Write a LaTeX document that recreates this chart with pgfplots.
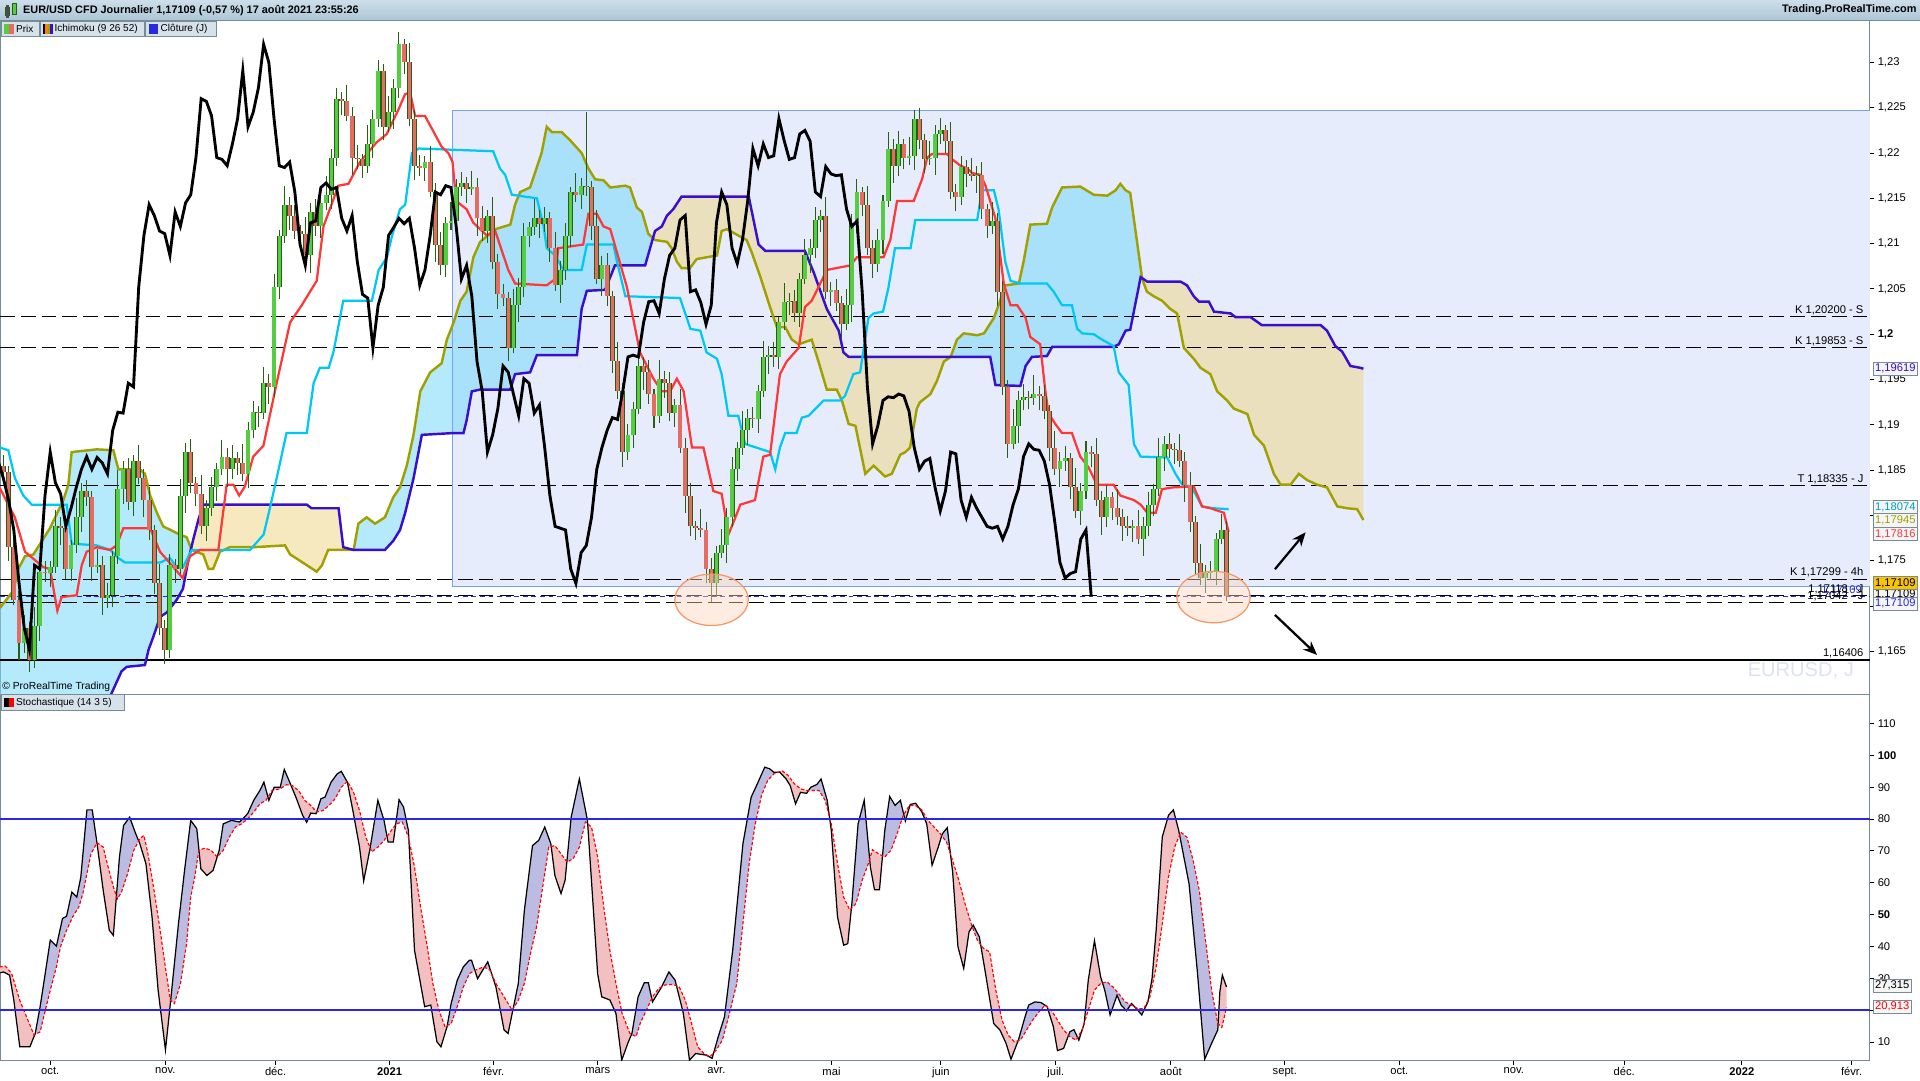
\documentclass[border=0pt]{standalone}
\usepackage{pgfplots}
\pgfplotsset{compat=1.18}
\usepackage{pgfplotstable}
\usepgfplotslibrary{fillbetween}
\usetikzlibrary{arrows.meta}
\usepackage{fontspec}
\setmainfont{Liberation Sans}
\newcommand\tf{\fontsize{7.8}{9}\selectfont}
\newcommand\lf{\fontsize{7.0}{8}\selectfont}
\definecolor{upg}{RGB}{85,205,65}
\definecolor{dnr}{RGB}{228,108,98}
\definecolor{edge}{RGB}{40,95,20}
\definecolor{tenkan}{RGB}{255,55,55}
\definecolor{kijun}{RGB}{0,200,245}
\definecolor{spana}{RGB}{160,160,0}
\definecolor{spanb}{RGB}{55,15,205}
\definecolor{cloudup}{RGB}{120,215,250}
\definecolor{clouddn}{RGB}{238,215,140}
\definecolor{rectfill}{RGB}{230,236,252}
\definecolor{rectline}{RGB}{120,160,245}
\definecolor{axisgray}{RGB}{120,140,152}
\definecolor{stochblue}{RGB}{40,40,225}
\definecolor{lav}{RGB}{188,188,226}
\definecolor{pinkf}{RGB}{242,192,192}
\definecolor{gold}{RGB}{250,196,0}
\definecolor{bar1}{RGB}{205,222,233}
\definecolor{bar2}{RGB}{172,198,214}
\definecolor{legfill}{RGB}{214,226,234}
\definecolor{wm}{RGB}{220,226,238}
\definecolor{ellf}{RGB}{253,212,186}
\definecolor{elld}{RGB}{245,150,100}

\pgfplotstableread{
b o h l c
-9 1.1855 1.1867 1.1839 1.1848
-8 1.1848 1.1855 1.1750 1.1765
-7 1.1765 1.1783 1.1701 1.1707
-6 1.1707 1.1717 1.1640 1.1659
-5 1.1659 1.1690 1.1648 1.1676
-4 1.1676 1.1682 1.1627 1.1640
-3 1.1640 1.1699 1.1632 1.1678
-2 1.1678 1.1747 1.1662 1.1738
-1 1.1738 1.1750 1.1727 1.1736
0 1.1736 1.1750 1.1721 1.1743
1 1.1743 1.1806 1.1737 1.1788
2 1.1788 1.1798 1.1767 1.1786
3 1.1786 1.1800 1.1730 1.1741
4 1.1741 1.1773 1.1728 1.1767
5 1.1767 1.1819 1.1759 1.1798
6 1.1798 1.1836 1.1782 1.1827
7 1.1827 1.1839 1.1811 1.1820
8 1.1820 1.1827 1.1728 1.1743
9 1.1743 1.1763 1.1737 1.1745
10 1.1745 1.1755 1.1690 1.1709
11 1.1709 1.1726 1.1698 1.1712
12 1.1712 1.1761 1.1699 1.1755
13 1.1755 1.1850 1.1747 1.1829
14 1.1829 1.1860 1.1813 1.1851
15 1.1851 1.1863 1.1806 1.1815
16 1.1815 1.1867 1.1800 1.1860
17 1.1860 1.1878 1.1835 1.1841
18 1.1841 1.1851 1.1798 1.1817
19 1.1817 1.1831 1.1773 1.1784
20 1.1784 1.1790 1.1713 1.1726
21 1.1726 1.1747 1.1668 1.1676
22 1.1676 1.1685 1.1636 1.1652
23 1.1652 1.1757 1.1643 1.1745
24 1.1745 1.1752 1.1726 1.1741
25 1.1741 1.1840 1.1735 1.1822
26 1.1822 1.1880 1.1803 1.1870
27 1.1870 1.1884 1.1825 1.1836
28 1.1836 1.1842 1.1811 1.1824
29 1.1824 1.1845 1.1780 1.1788
30 1.1788 1.1817 1.1772 1.1808
31 1.1808 1.1843 1.1799 1.1831
32 1.1831 1.1858 1.1816 1.1851
33 1.1851 1.1883 1.1845 1.1865
34 1.1865 1.1875 1.1832 1.1851
35 1.1851 1.1878 1.1840 1.1864
36 1.1864 1.1870 1.1845 1.1858
37 1.1858 1.1879 1.1838 1.1846
38 1.1846 1.1903 1.1830 1.1894
39 1.1894 1.1926 1.1885 1.1914
40 1.1914 1.1921 1.1898 1.1913
41 1.1913 1.1964 1.1907 1.1946
42 1.1946 1.1956 1.1923 1.1942
43 1.1942 1.2066 1.1931 1.2052
44 1.2052 1.2115 1.2039 1.2109
45 1.2109 1.2164 1.2101 1.2143
46 1.2143 1.2152 1.2115 1.2131
47 1.2131 1.2143 1.2105 1.2114
48 1.2114 1.2121 1.2096 1.2111
49 1.2111 1.2129 1.2081 1.2087
50 1.2087 1.2145 1.2068 1.2135
51 1.2135 1.2149 1.2108 1.2119
52 1.2119 1.2151 1.2106 1.2145
53 1.2145 1.2175 1.2137 1.2154
54 1.2154 1.2204 1.2138 1.2195
55 1.2195 1.2272 1.2186 1.2260
56 1.2260 1.2267 1.2242 1.2257
57 1.2257 1.2275 1.2235 1.2241
58 1.2241 1.2251 1.2176 1.2195
59 1.2195 1.2209 1.2182 1.2193
60 1.2193 1.2199 1.2173 1.2186
61 1.2186 1.2231 1.2178 1.2210
62 1.2210 1.2247 1.2194 1.2238
63 1.2238 1.2303 1.2229 1.2291
64 1.2291 1.2298 1.2214 1.2229
65 1.2229 1.2263 1.2223 1.2245
66 1.2245 1.2282 1.2226 1.2272
67 1.2272 1.2334 1.2261 1.2320
68 1.2320 1.2326 1.2287 1.2300
69 1.2300 1.2321 1.2230 1.2238
70 1.2238 1.2247 1.2170 1.2186
71 1.2186 1.2198 1.2175 1.2184
72 1.2184 1.2197 1.2169 1.2190
73 1.2190 1.2208 1.2151 1.2157
74 1.2157 1.2167 1.2080 1.2099
75 1.2099 1.2113 1.2065 1.2076
76 1.2076 1.2129 1.2063 1.2123
77 1.2123 1.2146 1.2115 1.2125
78 1.2125 1.2171 1.2109 1.2162
79 1.2162 1.2179 1.2153 1.2167
80 1.2167 1.2174 1.2145 1.2160
81 1.2160 1.2180 1.2154 1.2162
82 1.2162 1.2172 1.2109 1.2128
83 1.2128 1.2142 1.2103 1.2114
84 1.2114 1.2137 1.2101 1.2131
85 1.2131 1.2152 1.2072 1.2080
86 1.2080 1.2089 1.2028 1.2044
87 1.2044 1.2056 1.2031 1.2040
88 1.2040 1.2047 1.1970 1.1985
89 1.1985 1.2050 1.1979 1.2032
90 1.2032 1.2062 1.2013 1.2052
91 1.2052 1.2123 1.2041 1.2109
92 1.2109 1.2124 1.2096 1.2118
93 1.2118 1.2149 1.2110 1.2128
94 1.2128 1.2137 1.2106 1.2122
95 1.2122 1.2140 1.2113 1.2128
96 1.2128 1.2135 1.2080 1.2095
97 1.2095 1.2113 1.2048 1.2054
98 1.2054 1.2081 1.2035 1.2071
99 1.2071 1.2123 1.2060 1.2109
100 1.2109 1.2163 1.2096 1.2157
101 1.2157 1.2178 1.2146 1.2154
102 1.2154 1.2173 1.2138 1.2164
103 1.2164 1.2245 1.2153 1.2162
104 1.2162 1.2169 1.2104 1.2119
105 1.2119 1.2137 1.2055 1.2061
106 1.2061 1.2086 1.2042 1.2076
107 1.2076 1.2090 1.2031 1.2042
108 1.2042 1.2048 1.1957 1.1970
109 1.1970 1.1991 1.1929 1.1937
110 1.1937 1.1946 1.1854 1.1870
111 1.1870 1.1901 1.1861 1.1889
112 1.1889 1.1925 1.1874 1.1918
113 1.1918 1.1983 1.1912 1.1965
114 1.1965 1.1975 1.1939 1.1958
115 1.1958 1.1972 1.1923 1.1934
116 1.1934 1.1940 1.1897 1.1910
117 1.1910 1.1972 1.1902 1.1951
118 1.1951 1.1960 1.1930 1.1946
119 1.1946 1.1958 1.1904 1.1913
120 1.1913 1.1929 1.1898 1.1922
121 1.1922 1.1940 1.1869 1.1875
122 1.1875 1.1885 1.1803 1.1822
123 1.1822 1.1836 1.1777 1.1788
124 1.1788 1.1794 1.1773 1.1786
125 1.1786 1.1807 1.1776 1.1784
126 1.1784 1.1793 1.1725 1.1741
127 1.1741 1.1753 1.1705 1.1725
128 1.1725 1.1766 1.1710 1.1759
129 1.1759 1.1785 1.1753 1.1767
130 1.1767 1.1808 1.1748 1.1798
131 1.1798 1.1865 1.1787 1.1851
132 1.1851 1.1881 1.1838 1.1875
133 1.1875 1.1915 1.1867 1.1894
134 1.1894 1.1917 1.1878 1.1908
135 1.1908 1.1920 1.1897 1.1906
136 1.1906 1.1944 1.1891 1.1937
137 1.1937 1.1993 1.1931 1.1975
138 1.1975 1.1987 1.1956 1.1977
139 1.1977 1.1991 1.1964 1.1975
140 1.1975 1.2019 1.1962 1.2013
141 1.2013 1.2057 1.2005 1.2036
142 1.2036 1.2046 1.2021 1.2037
143 1.2037 1.2049 1.2014 1.2023
144 1.2023 1.2068 1.2008 1.2061
145 1.2061 1.2105 1.2055 1.2087
146 1.2087 1.2105 1.2068 1.2095
147 1.2095 1.2140 1.2084 1.2126
148 1.2126 1.2137 1.2113 1.2131
149 1.2131 1.2152 1.2039 1.2047
150 1.2047 1.2058 1.2031 1.2049
151 1.2049 1.2061 1.2026 1.2035
152 1.2035 1.2042 1.1996 1.2011
153 1.2011 1.2050 1.2005 1.2032
154 1.2032 1.2133 1.2013 1.2123
155 1.2123 1.2171 1.2112 1.2157
156 1.2157 1.2163 1.2130 1.2143
157 1.2143 1.2164 1.2087 1.2095
158 1.2095 1.2104 1.2062 1.2078
159 1.2078 1.2116 1.2069 1.2104
160 1.2104 1.2154 1.2089 1.2147
161 1.2147 1.2223 1.2141 1.2205
162 1.2205 1.2215 1.2167 1.2186
163 1.2186 1.2224 1.2175 1.2210
164 1.2210 1.2216 1.2182 1.2195
165 1.2195 1.2218 1.2187 1.2197
166 1.2197 1.2247 1.2181 1.2238
167 1.2238 1.2250 1.2205 1.2214
168 1.2214 1.2221 1.2178 1.2193
169 1.2193 1.2213 1.2187 1.2195
170 1.2195 1.2231 1.2176 1.2221
171 1.2221 1.2239 1.2210 1.2225
172 1.2225 1.2231 1.2200 1.2213
173 1.2213 1.2234 1.2149 1.2157
174 1.2157 1.2166 1.2136 1.2152
175 1.2152 1.2197 1.2143 1.2185
176 1.2185 1.2192 1.2162 1.2177
177 1.2177 1.2195 1.2169 1.2175
178 1.2175 1.2186 1.2156 1.2176
179 1.2176 1.2190 1.2127 1.2138
180 1.2138 1.2144 1.2106 1.2119
181 1.2119 1.2146 1.2111 1.2125
182 1.2125 1.2134 1.2031 1.2047
183 1.2047 1.2059 1.1933 1.1942
184 1.1942 1.1949 1.1864 1.1879
185 1.1879 1.1917 1.1873 1.1899
186 1.1899 1.1937 1.1880 1.1927
187 1.1927 1.1945 1.1916 1.1931
188 1.1931 1.1937 1.1917 1.1930
189 1.1930 1.1955 1.1922 1.1934
190 1.1934 1.1943 1.1916 1.1932
191 1.1932 1.1944 1.1906 1.1915
192 1.1915 1.1922 1.1860 1.1875
193 1.1875 1.1893 1.1845 1.1851
194 1.1851 1.1870 1.1832 1.1860
195 1.1860 1.1877 1.1849 1.1863
196 1.1863 1.1869 1.1818 1.1831
197 1.1831 1.1852 1.1797 1.1805
198 1.1805 1.1836 1.1789 1.1827
199 1.1827 1.1882 1.1818 1.1870
200 1.1870 1.1877 1.1853 1.1868
201 1.1868 1.1886 1.1811 1.1817
202 1.1817 1.1827 1.1779 1.1798
203 1.1798 1.1834 1.1787 1.1820
204 1.1820 1.1826 1.1795 1.1808
205 1.1808 1.1829 1.1790 1.1798
206 1.1798 1.1807 1.1772 1.1788
207 1.1788 1.1800 1.1777 1.1786
208 1.1786 1.1795 1.1771 1.1788
209 1.1788 1.1806 1.1768 1.1774
210 1.1774 1.1798 1.1755 1.1788
211 1.1788 1.1826 1.1777 1.1812
212 1.1812 1.1835 1.1799 1.1829
213 1.1829 1.1886 1.1821 1.1865
214 1.1865 1.1888 1.1849 1.1879
215 1.1879 1.1891 1.1864 1.1873
216 1.1873 1.1880 1.1857 1.1872
217 1.1872 1.1890 1.1854 1.1860
218 1.1860 1.1870 1.1815 1.1834
219 1.1834 1.1848 1.1782 1.1793
220 1.1793 1.1799 1.1735 1.1748
221 1.1748 1.1769 1.1723 1.1731
222 1.1731 1.1745 1.1715 1.1736
223 1.1736 1.1750 1.1729 1.1738
224 1.1738 1.1781 1.1723 1.1774
225 1.1774 1.1802 1.1768 1.1784
226 1.1784 1.1794 1.1706 1.1711
}\ohlc

\pgfplotstableread{
b p
-9.65 1.1830
-6.8 1.1798
-4.85 1.1760
-1.32 1.1743
-0.04 1.1741
1.37 1.1695
2.2 1.1710
5.08 1.1712
6.05 1.1745
7.0 1.1760
8.93 1.1765
11.49 1.1762
12.77 1.1767
14.05 1.1786
19.18 1.1786
21.1 1.1760
23.66 1.1743
25.45 1.1731
26.86 1.1755
28.8 1.1762
32.3 1.1762
33.9 1.1834
35.2 1.1834
36.3 1.1822
37.4 1.1832
39.0 1.1865
40.96 1.1877
43.5 1.1946
46.08 1.2013
48.32 1.2032
51.2 1.2059
52.5 1.2119
55.37 1.2164
57.3 1.2166
59.5 1.2190
62.74 1.2212
64.66 1.2221
66.9 1.2248
68.18 1.2265
69.15 1.2267
70.1 1.2241
72.0 1.2241
75.2 1.2207
76.5 1.2200
77.3 1.2190
78.0 1.2147
80.0 1.2138
81.3 1.2123
83.9 1.2109
85.5 1.2114
88.0 1.2071
89.3 1.2056
95.4 1.2054
97.0 1.2061
97.6 1.2095
102.4 1.2099
103.4 1.2133
105.0 1.2133
106.3 1.2119
107.6 1.2116
108.9 1.2090
110.8 1.2052
113.3 1.1980
115.9 1.1951
117.5 1.1937
119.1 1.1937
120.4 1.1951
121.7 1.1937
123.3 1.1875
125.5 1.1875
127.4 1.1827
129.0 1.1824
130.3 1.1779
131.3 1.1793
132.6 1.1812
135.4 1.1817
137.0 1.1865
138.3 1.1867
140.2 1.1956
141.5 1.1970
143.8 1.1985
145.0 1.2030
146.3 1.2037
147.6 1.2052
149.2 1.2071
153.7 1.2076
155.0 1.2085
160.1 1.2085
161.4 1.2104
162.7 1.2147
165.9 1.2147
167.5 1.2171
168.5 1.2195
169.4 1.2199
172.3 1.2199
173.3 1.2193
174.9 1.2186
176.2 1.2183
177.1 1.2178
178.7 1.2176
179.7 1.2164
181.6 1.2128
183.2 1.2056
184.5 1.2032
185.8 1.2032
187.4 1.2018
188.3 1.1997
190.2 1.1989
191.2 1.1937
191.8 1.1913
193.1 1.1901
194.4 1.1891
196.3 1.1891
197.9 1.1865
199.5 1.1853
201.1 1.1834
204.3 1.1834
205.6 1.1822
208.2 1.1817
209.5 1.1812
210.8 1.1803
212.4 1.1803
213.6 1.1829
215.6 1.1831
219.7 1.1832
221.3 1.1810
222.9 1.1808
225.5 1.1803
226.4 1.1782
}\tenkan

\pgfplotstableread{
b p
-9.65 1.1875
-8.05 1.1872
-6.77 1.1841
-5.17 1.1822
-3.56 1.1812
3.16 1.1812
4.12 1.1769
8.93 1.1767
11.5 1.1762
13.1 1.1753
14.4 1.1748
21.1 1.1748
23.0 1.1753
24.3 1.1743
25.5 1.1743
27.2 1.1762
38.4 1.1762
41.0 1.1779
42.2 1.1808
43.5 1.1841
45.4 1.1891
49.3 1.1891
50.6 1.1946
51.8 1.1963
53.5 1.1963
54.4 1.1980
56.3 1.2037
61.8 1.2037
63.1 1.2071
64.7 1.2085
65.6 1.2107
67.2 1.2138
68.2 1.2143
69.5 1.2200
70.8 1.2205
85.1 1.2202
86.4 1.2183
87.4 1.2176
88.7 1.2154
93.5 1.2150
94.8 1.2119
95.4 1.2095
97.0 1.2087
98.6 1.2071
102.1 1.2071
103.1 1.2099
108.2 1.2099
108.9 1.2080
110.5 1.2042
121.0 1.2040
123.0 1.2006
124.9 1.2004
126.1 1.1980
128.1 1.1973
129.0 1.1956
130.3 1.1910
132.2 1.1910
133.5 1.1879
138.3 1.1870
139.3 1.1851
140.2 1.1875
141.2 1.1891
143.4 1.1891
144.4 1.1908
145.7 1.1910
148.6 1.1927
151.8 1.1927
152.7 1.1932
154.3 1.1956
155.6 1.1958
157.2 1.2018
158.2 1.2023
160.0 1.2025
161.0 1.2050
162.3 1.2095
165.3 1.2095
166.2 1.2126
178.1 1.2126
179.0 1.2159
181.3 1.2159
182.2 1.2138
183.5 1.2080
184.5 1.2059
186.4 1.2056
191.5 1.2056
192.8 1.2047
194.4 1.2032
196.3 1.2032
197.3 1.2006
198.3 1.2001
200.5 1.2000
202.1 1.1994
204.3 1.1987
205.3 1.1958
207.2 1.1944
208.2 1.1879
209.5 1.1865
214.6 1.1864
216.2 1.1846
217.5 1.1834
219.1 1.1832
220.0 1.1824
221.3 1.1810
223.6 1.1808
226.4 1.1807
}\kijun

\pgfplotstableread{
b p
-9.65 1.1698
-7.09 1.1717
-6.13 1.1741
-4.85 1.1755
-3.24 1.1757
-0.04 1.1786
2.52 1.1817
3.48 1.1834
4.12 1.1870
8.93 1.1873
12.13 1.1872
13.1 1.1851
17.2 1.1851
18.2 1.1846
19.2 1.1822
20.5 1.1803
21.7 1.1788
24.9 1.1779
26.2 1.1776
27.2 1.1762
29.4 1.1757
30.4 1.1741
31.3 1.1741
32.6 1.1760
34.5 1.1765
39.0 1.1765
45.1 1.1767
46.1 1.1757
48.0 1.1750
51.2 1.1738
52.2 1.1745
53.4 1.1762
58.3 1.1762
59.2 1.1791
60.8 1.1798
62.4 1.1791
64.3 1.1798
65.9 1.1820
67.2 1.1831
68.5 1.1855
69.8 1.1889
71.1 1.1937
73.0 1.1958
75.2 1.1968
76.2 1.1994
77.5 1.2013
78.8 1.2037
80.0 1.2047
81.3 1.2085
82.6 1.2102
85.5 1.2116
88.4 1.2121
89.3 1.2143
90.3 1.2157
92.2 1.2162
94.4 1.2200
95.4 1.2229
96.4 1.2223
98.3 1.2223
99.9 1.2214
102.1 1.2200
103.4 1.2183
104.7 1.2171
106.3 1.2170
107.6 1.2162
110.5 1.2164
111.4 1.2162
112.7 1.2140
113.7 1.2135
114.9 1.2111
116.2 1.2104
118.5 1.2102
119.4 1.2095
120.4 1.2080
121.3 1.2073
122.9 1.2073
124.2 1.2083
128.1 1.2087
129.0 1.2114
130.0 1.2116
132.2 1.2109
133.8 1.2104
134.8 1.2090
136.4 1.2064
138.3 1.2030
139.6 1.2008
141.2 1.2008
142.5 1.1994
143.8 1.1989
146.3 1.1994
147.6 1.1970
149.2 1.1939
151.1 1.1939
152.1 1.1927
153.4 1.1901
154.7 1.1899
156.6 1.1846
158.2 1.1855
160.4 1.1843
161.7 1.1846
163.3 1.1867
164.3 1.1870
165.2 1.1875
166.5 1.1918
167.1 1.1925
169.1 1.1934
170.4 1.1949
171.7 1.1970
173.0 1.1975
174.2 1.1994
175.5 1.2001
178.1 1.1999
179.4 1.2001
181.3 1.2018
182.2 1.2032
183.5 1.2054
186.1 1.2056
187.0 1.2080
188.3 1.2121
191.5 1.2122
192.5 1.2140
194.4 1.2162
197.9 1.2163
200.5 1.2154
203.1 1.2153
204.7 1.2159
205.6 1.2166
206.6 1.2159
207.5 1.2156
209.8 1.2061
210.7 1.2047
212.0 1.2042
213.6 1.2037
215.2 1.2028
216.5 1.2023
217.8 1.1985
219.7 1.1973
221.0 1.1963
222.9 1.1956
224.2 1.1937
226.1 1.1927
227.4 1.1918
230.0 1.1912
231.3 1.1889
233.2 1.1877
235.1 1.1846
236.4 1.1834
238.3 1.1834
239.9 1.1846
241.5 1.1839
243.4 1.1834
245.3 1.1831
247.3 1.1810
249.2 1.1808
251.1 1.1807
252.3 1.1795
}\spanA

\pgfplotstableread{
b p
-9.65 1.1520
5.0 1.1540
10.0 1.1575
11.8 1.1604
13.7 1.1628
14.7 1.1633
18.2 1.1635
18.9 1.1652
19.8 1.1666
21.1 1.1688
22.4 1.1693
24.3 1.1707
25.5 1.1719
26.5 1.1750
27.5 1.1774
28.5 1.1796
29.4 1.1812
49.3 1.1812
50.2 1.1808
55.4 1.1808
56.3 1.1765
58.3 1.1762
64.3 1.1762
65.9 1.1772
67.2 1.1784
68.2 1.1803
69.8 1.1841
71.4 1.1889
77.5 1.1891
79.4 1.1891
80.0 1.1905
81.0 1.1937
82.6 1.1939
88.4 1.1939
89.3 1.1956
92.2 1.1958
93.5 1.1977
101.2 1.1977
102.1 1.2028
103.1 1.2048
106.6 1.2049
108.5 1.2076
114.3 1.2076
116.2 1.2114
117.5 1.2119
118.5 1.2131
119.7 1.2138
121.3 1.2152
134.2 1.2152
136.1 1.2099
137.4 1.2092
145.0 1.2092
146.7 1.2068
149.2 1.2028
151.5 1.2004
152.4 1.1980
153.4 1.1975
180.6 1.1975
181.6 1.1944
186.4 1.1943
187.4 1.1965
188.6 1.1975
191.5 1.1976
192.5 1.1986
204.3 1.1986
205.3 1.1989
206.6 1.2004
207.5 1.2005
209.5 1.2063
210.8 1.2058
217.2 1.2058
218.4 1.2054
219.7 1.2042
220.7 1.2036
222.6 1.2036
223.6 1.2025
226.8 1.2023
227.7 1.2019
230.6 1.2019
232.8 1.2010
244.1 1.2010
245.3 1.2004
246.9 1.1987
248.2 1.1981
249.8 1.1965
251.7 1.1963
252.3 1.1962
}\spanB

\pgfplotstableread{
b v
-9.76 31.7
-8.98 32.0
-7.8 31.0
-7.0 23.2
-5.85 8.5
-3.9 8.5
-2.88 12.7
-1.94 21.1
-1.16 29.4
0.01 42.0
1.19 40.1
2.36 48.8
3.14 49.5
4.16 57.1
5.1 55.5
5.88 61.8
7.05 82.9
8.07 82.9
9.0 72.3
10.18 57.6
11.35 45.1
12.13 43.5
13.3 68.1
14.09 78.0
15.26 80.6
16.43 75.4
17.21 72.3
18.39 66.0
19.56 49.3
20.73 26.3
22.14 7.5
23.08 22.1
24.64 47.2
25.81 63.9
26.99 79.6
28.16 77.0
28.94 64.4
30.11 62.3
31.29 63.9
32.46 70.2
33.24 78.5
34.8 79.6
36.37 79.1
37.93 81.7
39.1 85.9
40.28 89.0
41.06 91.6
42.0 85.9
43.02 90.0
44.19 90.0
44.97 95.6
46.14 91.1
47.32 86.4
48.49 81.2
49.27 79.0
50.05 81.9
51.07 81.7
52.01 86.4
52.79 86.9
53.96 91.6
55.13 94.2
55.92 95.0
57.09 91.6
58.26 81.7
59.43 71.2
60.22 60.6
61.39 70.2
62.95 85.9
64.13 79.6
64.91 72.8
65.92 72.8
67.02 86.1
67.88 83.8
68.82 76.4
69.99 38.8
71.94 21.1
73.12 21.6
74.29 10.1
75.07 8.5
76.24 14.8
77.03 22.1
78.2 29.4
79.37 33.6
80.54 35.7
80.94 35.7
82.11 29.9
84.06 35.2
85.63 27.3
87.19 13.8
87.97 12.7
89.93 28.4
91.1 51.4
92.66 71.7
93.84 73.3
95.01 77.5
96.18 72.3
96.96 62.3
98.14 56.6
98.92 60.8
100.09 80.6
101.66 92.6
103.22 79.6
105.17 31.5
105.96 24.2
107.52 23.2
108.69 19.0
109.8 4.3
110.97 9.6
111.76 12.7
112.95 24.2
114.13 28.6
114.92 28.6
115.71 22.6
117.29 26.8
118.87 32.0
120.06 29.4
121.64 19.0
122.82 4.3
124.01 6.4
125.98 5.9
127.17 4.9
128.35 11.7
129.54 17.9
131.12 38.8
133.09 72.3
134.67 86.9
135.86 91.1
137.28 96.3
138.23 95.8
139.02 94.7
140.2 94.7
141.39 92.6
142.18 90.5
143.2 84.8
144.15 88.4
145.33 88.1
146.12 90.0
147.31 90.9
148.1 92.6
149.28 85.9
150.07 76.4
151.26 49.3
152.44 40.4
153.23 40.9
154.02 53.5
155.21 78.5
156.39 85.9
157.58 64.9
158.37 57.8
159.32 57.8
160.34 76.4
161.29 87.1
162.32 84.3
163.34 85.9
164.29 79.4
165.24 84.6
166.27 85.0
167.45 82.3
168.4 78.5
169.43 65.5
170.61 71.2
171.4 75.4
172.35 77.3
173.38 63.4
174.4 39.9
175.51 33.1
176.53 44.6
177.33 46.7
178.51 43.0
179.7 31.5
181.27 15.8
182.46 13.8
183.64 9.6
184.59 4.6
186.01 10.6
187.2 17.4
187.99 21.6
189.17 22.6
190.36 22.4
191.54 21.1
192.73 14.8
193.52 7.3
194.7 8.0
195.89 13.2
196.68 13.9
197.63 10.6
198.65 15.8
199.44 29.4
200.63 41.8
201.81 30.5
202.6 26.3
203.63 18.5
204.97 24.7
205.76 21.6
206.79 19.8
207.74 22.1
208.68 20.5
209.71 18.5
210.9 22.6
211.69 29.9
212.48 45.1
213.66 74.4
214.85 81.2
215.79 82.9
216.82 76.4
218.8 59.7
220.37 32.6
221.8 4.6
223.14 9.6
224.32 13.8
224.72 25.8
225.2 31.0
226 27.3
}\stK

\pgfplotstableread{
b v
-9.76 33.6
-8.59 33.8
-7.41 31.5
-5.85 23.1
-4.29 16.9
-3.11 12.2
-1.94 13.2
-1.16 18.5
0.01 26.3
1.19 33.6
1.97 39.9
3.14 45.1
4.31 49.3
5.49 52.4
6.27 56.6
7.05 62.9
7.83 69.1
9.0 72.6
10.18 71.2
10.96 66.0
12.13 58.7
12.91 55.0
13.7 57.1
14.87 62.9
16.04 70.2
17.21 73.8
18.0 74.9
18.78 69.1
19.95 57.6
21.12 45.1
22.3 31.5
23.08 23.1
23.86 22.1
25.03 28.4
26.2 40.9
26.99 55.5
27.77 61.8
28.55 70.2
29.72 70.9
30.9 70.2
32.07 68.1
33.24 70.2
34.41 74.4
35.59 77.5
36.76 78.5
37.93 80.1
39.1 82.2
40.28 84.8
41.45 85.9
42.62 89.0
44.19 89.5
45.36 90.8
46.53 90.5
47.71 89.0
48.88 85.9
50.05 84.3
51.23 82.2
52.4 82.7
53.57 84.3
54.74 86.4
55.92 90.0
57.09 91.9
58.26 88.5
59.43 82.7
60.61 74.4
61.78 69.7
62.95 71.2
64.13 73.3
65.3 75.9
66.47 78.5
67.64 79.1
68.82 74.4
69.99 65.0
71.16 52.4
72.34 40.9
73.51 28.4
74.68 20.0
75.85 14.8
77.03 15.8
78.2 21.1
79.37 27.3
80.54 31.5
81.72 32.6
83.28 33.6
84.46 32.6
85.63 28.4
87.19 24.2
88.76 20.0
89.93 23.1
91.1 28.4
92.27 37.8
93.45 46.2
94.62 58.7
95.79 71.2
96.96 71.7
98.14 69.1
99.31 66.5
100.48 67.6
101.66 71.2
102.83 79.1
104.0 77.5
105.17 68.1
106.35 52.4
107.52 38.8
108.69 28.4
109.87 19.0
111.37 12.7
112.55 11.7
113.34 15.8
114.53 20.0
115.71 24.2
116.9 26.8
118.08 27.9
119.66 28.1
120.85 27.3
122.03 23.1
123.22 15.8
124.4 8.5
125.59 6.4
126.77 5.4
127.96 7.5
129.14 10.6
130.33 17.9
131.91 28.4
133.09 47.2
134.28 66.0
135.46 78.5
136.65 87.4
137.83 92.1
139.02 94.2
140.6 95.2
141.78 93.7
142.97 91.1
144.15 89.5
145.33 89.0
147.7 89.0
148.89 85.9
150.07 78.5
151.26 66.0
152.44 55.5
153.63 51.4
154.81 53.5
156.0 60.8
157.18 66.0
157.97 70.4
159.16 69.1
160.34 68.1
161.53 70.2
162.71 75.4
163.9 81.2
165.08 84.3
166.27 84.2
167.45 82.9
168.64 79.6
169.82 77.5
171.0 75.4
172.19 72.8
173.38 67.0
174.56 60.8
175.75 53.5
176.93 47.2
178.12 42.0
179.3 39.4
180.49 38.3
181.67 26.3
182.86 16.9
184.04 12.2
185.22 10.1
186.41 10.6
187.59 13.8
188.78 16.9
189.96 19.5
191.15 21.6
192.33 20.0
193.52 16.9
194.7 13.8
195.89 11.7
197.07 10.6
198.26 13.8
199.44 20.0
200.63 26.3
201.81 28.4
203.0 28.9
204.18 27.3
205.37 25.0
206.55 22.6
207.74 21.6
208.92 20.5
210.11 20.5
211.29 24.2
212.48 33.6
213.66 47.2
214.85 61.8
216.03 71.2
217.22 75.9
218.4 74.3
219.59 67.0
220.77 57.6
221.96 42.0
223.14 26.3
224.32 15.8
225.11 14.6
226 20.9
}\stD

\begin{document}
\begin{tikzpicture}

% ---------------- main price panel
\begin{axis}[
  at={(0mm,94.5mm)}, anchor=south west, scale only axis,
  width=458.1mm, height=165.3mm,
  xmin=-9.65, xmax=349.6, ymin=1.16027, ymax=1.23473,
  axis line style={draw=axisgray, line width=0.3mm},
  xtick=\empty,
  ytick={1.165,1.17,1.175,1.18,1.185,1.19,1.195,1.2,1.205,1.21,1.215,1.22,1.225,1.23},
  yticklabels={{1,165},{},{1,175},{},{1,185},{1,19},{1,195},{\textbf{1,2}},{1,205},{1,21},{1,215},{1,22},{1,225},{1,23}},
  ytick pos=right, yticklabel pos=right, tick align=outside,
  major tick length=1.1mm, tick style={draw=black, line width=0.25mm},
  yticklabel style={font=\tf, anchor=west, xshift=-0.4mm},
]
% blue rectangle zone (filled as area between its two edges)
\addplot[draw=none, name path=RT, forget plot] coordinates {(77.28,1.22472) (352,1.22472)};
\addplot[draw=none, name path=RB, forget plot] coordinates {(77.28,1.17212) (352,1.17212)};
\addplot[fill=rectfill, draw=none] fill between[of=RT and RB];
% cloud
\addplot[draw=none, name path=SA, forget plot] table[x=b,y=p] {\spanA};
\addplot[draw=none, name path=SB, forget plot] table[x=b,y=p] {\spanB};
\addplot[fill=cloudup, fill opacity=0.55, draw=none] fill between[of=SA and SB, soft clip={(axis cs:-10,1.14) rectangle (axis cs:27.0,1.24)}];
\addplot[fill=clouddn, fill opacity=0.55, draw=none] fill between[of=SA and SB, soft clip={(axis cs:27.0,1.14) rectangle (axis cs:57.5,1.24)}];
\addplot[fill=cloudup, fill opacity=0.55, draw=none] fill between[of=SA and SB, soft clip={(axis cs:57.5,1.14) rectangle (axis cs:115.8,1.24)}];
\addplot[fill=clouddn, fill opacity=0.55, draw=none] fill between[of=SA and SB, soft clip={(axis cs:115.8,1.14) rectangle (axis cs:173.0,1.24)}];
\addplot[fill=cloudup, fill opacity=0.55, draw=none] fill between[of=SA and SB, soft clip={(axis cs:173.0,1.14) rectangle (axis cs:209.75,1.24)}];
\addplot[fill=clouddn, fill opacity=0.55, draw=none] fill between[of=SA and SB, soft clip={(axis cs:209.75,1.14) rectangle (axis cs:253,1.24)}];
% rectangle border
\addplot[draw=rectline, line width=0.25mm] coordinates {(77.28,1.17212) (352,1.17212) (352,1.22472) (77.28,1.22472)} -- cycle;
% horizontal levels
\addplot[black, line width=0.25mm, dash pattern=on 3.6mm off 1.5mm] coordinates {(-9.65,1.202) (349.6,1.202)};
\addplot[black, line width=0.25mm, dash pattern=on 3.6mm off 1.5mm] coordinates {(-9.65,1.19853) (349.6,1.19853)};
\addplot[black, line width=0.25mm, dash pattern=on 3.6mm off 1.5mm] coordinates {(-9.65,1.18335) (349.6,1.18335)};
\addplot[black, line width=0.25mm, dash pattern=on 3.6mm off 1.5mm] coordinates {(-9.65,1.17299) (349.6,1.17299)};
\addplot[black, line width=0.25mm, dash pattern=on 3.6mm off 1.5mm] coordinates {(-9.65,1.17118) (349.6,1.17118)};
\addplot[black, line width=0.25mm, dash pattern=on 3.6mm off 1.5mm] coordinates {(-9.65,1.17042) (349.6,1.17042)};
\addplot[stochblue, line width=0.25mm, dash pattern=on 1.2mm off 0.9mm] coordinates {(-9.65,1.17109) (349.6,1.17109)};
\addplot[black, line width=0.3mm] coordinates {(-9.65,1.16406) (349.6,1.16406)};
% ichimoku lines
\addplot[spana, line width=0.6mm] table[x=b,y=p] {\spanA};
\addplot[spanb, line width=0.6mm] table[x=b,y=p] {\spanB};
\addplot[kijun, line width=0.55mm] table[x=b,y=p] {\kijun};
\addplot[tenkan, line width=0.55mm] table[x=b,y=p] {\tenkan};
% candles: wicks
\addplot[draw=none, mark=none,
  error bars/.cd, y dir=plus, y explicit, error mark=none,
  error bar style={line width=0.25mm, draw=edge}]
  table[x=b, y=l, y error expr=\thisrow{h}-\thisrow{l}] {\ohlc};
% candle bodies: outline
\addplot[draw=none, mark=none,
  error bars/.cd, y dir=plus, y explicit, error mark=none,
  error bar style={line width=1.2mm, draw=edge}]
  table[x=b, y expr={min(\thisrow{o},\thisrow{c})}, y error expr={abs(\thisrow{c}-\thisrow{o})}] {\ohlc};
% up bodies
\addplot[draw=none, mark=none,
  restrict expr to domain={\thisrow{c}-\thisrow{o}}{0:1},
  error bars/.cd, y dir=plus, y explicit, error mark=none,
  error bar style={line width=0.85mm, draw=upg}]
  table[x=b, y expr={min(\thisrow{o},\thisrow{c})}, y error expr={abs(\thisrow{c}-\thisrow{o})}] {\ohlc};
% down bodies
\addplot[draw=none, mark=none,
  restrict expr to domain={\thisrow{c}-\thisrow{o}}{-1:0},
  error bars/.cd, y dir=plus, y explicit, error mark=none,
  error bar style={line width=0.85mm, draw=dnr}]
  table[x=b, y expr={min(\thisrow{o},\thisrow{c})}, y error expr={abs(\thisrow{c}-\thisrow{o})}] {\ohlc};
% chikou (close shifted 26 bars back)
\addplot[black, line width=0.7mm] table[x expr=\thisrow{b}-26, y=c] {\ohlc};
% ellipses
\draw[fill=ellf, fill opacity=0.45, draw=elld, line width=0.3mm] (axis cs:127.06,1.1707) ellipse [x radius=9mm, y radius=6.3mm];
\draw[fill=ellf, fill opacity=0.45, draw=elld, line width=0.3mm] (axis cs:223.5,1.1710) ellipse [x radius=9mm, y radius=6.3mm];
% arrows
\draw[-{Stealth[length=3.4mm,width=2.8mm]}, line width=0.55mm] (axis cs:235.3,1.17407) -- (axis cs:241.2,1.17815);
\draw[-{Stealth[length=3.4mm,width=2.8mm]}, line width=0.55mm] (axis cs:235.3,1.16903) -- (axis cs:243.4,1.16461);
% level labels
\node[anchor=south east, font=\tf, inner sep=0.35mm] at (axis cs:348.7,1.202) {K 1,20200 - S};
\node[anchor=south east, font=\tf, inner sep=0.35mm] at (axis cs:348.7,1.19853) {K 1,19853 - S};
\node[anchor=south east, font=\tf, inner sep=0.35mm] at (axis cs:348.7,1.18335) {T 1,18335 - J};
\node[anchor=south east, font=\tf, inner sep=0.35mm] at (axis cs:348.7,1.17299) {K 1,17299 - 4h};
\node[anchor=south east, font=\tf, inner sep=0.35mm, text=stochblue] at (axis cs:348.4,1.17109) {1,17109};
\node[anchor=south east, font=\tf, inner sep=0.35mm] at (axis cs:348.7,1.17118) {1,17118 - J};
\node[anchor=south east, font=\tf, inner sep=0.35mm] at (axis cs:348.7,1.17042) {1,17042 - J};
\node[anchor=south east, font=\tf, inner sep=0.35mm] at (axis cs:348.7,1.16406) {1,16406};
\node[anchor=east, font=\fontsize{14}{16}\selectfont, text=wm] at (axis cs:347.5,1.16284) {EURUSD, J};
\node[anchor=south west, font=\fontsize{7.2}{8}\selectfont, inner sep=0.3mm] at (axis cs:-9.5,1.1604) {\textcopyright\ ProRealTime Trading};
\end{axis}

% ---------------- stochastic panel
\begin{axis}[
  at={(0mm,4.8mm)}, anchor=south west, scale only axis,
  width=458.1mm, height=89.7mm,
  xmin=-9.65, xmax=349.6, ymin=4.23, ymax=119.2,
  axis line style={draw=axisgray, line width=0.3mm},
  xtick={0,22.1,43.3,65.2,85.2,105.2,128.0,150.1,171.1,193.2,215.3,237.2,259.2,281.2,302.4,325.0,346.1},
  xticklabels={oct.,nov.,déc.,\textbf{2021},févr.,mars,avr.,mai,juin,juil.,août,sept.,oct.,nov.,déc.,\textbf{2022},févr.},
  xtick pos=lower,
  ytick={10,20,30,40,50,60,70,80,90,100,110},
  yticklabels={10,{},30,40,\textbf{50},60,70,80,90,\textbf{100},110},
  ytick pos=right, yticklabel pos=right, tick align=outside,
  major tick length=1.1mm, tick style={draw=black, line width=0.25mm},
  yticklabel style={font=\tf, anchor=west, xshift=-0.4mm},
  xticklabel style={font=\tf, yshift=0.6mm},
]
\addplot[draw=none, name path=K, forget plot] table[x=b,y=v] {\stK};
\addplot[draw=none, name path=D, forget plot] table[x=b,y=v] {\stD};
\addplot[fill=lav, draw=none] fill between[of=K and D, split,
   every even segment/.style={fill=pinkf},
   every odd segment/.style={fill=lav}];
\addplot[black, line width=0.3mm] table[x=b,y=v] {\stK};
\addplot[red, line width=0.28mm, dash pattern=on 0.8mm off 0.5mm] table[x=b,y=v] {\stD};
\addplot[stochblue, line width=0.6mm] coordinates {(-9.65,80) (349.6,80)};
\addplot[stochblue, line width=0.6mm] coordinates {(-9.65,20) (349.6,20)};
\end{axis}

% ---------------- title bar
\shade[top color=bar1, bottom color=bar2] (0,259.6mm) rectangle (470.4mm,264.6mm);
\draw[axisgray, line width=0.3mm] (0,259.6mm) -- (470.4mm,259.6mm);
\fill[edge] (1.2mm,260.7mm) rectangle (2.4mm,262.9mm);
\fill[black!70] (1.5mm,260.3mm) rectangle (2.1mm,263.3mm);
\fill[upg, draw=edge, line width=0.15mm] (2.9mm,261.0mm) rectangle (4.1mm,263.8mm);
\node[anchor=west, font=\fontsize{7.6}{9}\selectfont\bfseries, inner sep=0] at (5.6mm,262.1mm) {EUR/USD CFD Journalier 1,17109 (-0,57 \%) 17 août 2021 23:55:26};
\node[anchor=east, font=\fontsize{7.6}{9}\selectfont\bfseries, inner sep=0] at (469.6mm,262.1mm) {Trading.ProRealTime.com};

% legend boxes
\draw[fill=legfill, draw=axisgray, line width=0.2mm] (0.3mm,255.6mm) rectangle (9.6mm,259.4mm);
\fill[upg] (1.0mm,256.3mm) rectangle (2.2mm,258.7mm);
\fill[dnr] (2.2mm,256.3mm) rectangle (3.4mm,258.7mm);
\node[anchor=west, font=\lf, inner sep=0] at (3.9mm,257.5mm) {Prix};
\draw[fill=legfill, draw=axisgray, line width=0.2mm] (9.9mm,255.6mm) rectangle (35.4mm,259.4mm);
\fill[black] (10.5mm,256.3mm) rectangle (11.1mm,258.7mm);
\fill[orange] (11.1mm,256.3mm) rectangle (11.7mm,258.7mm);
\fill[spana] (11.7mm,256.3mm) rectangle (12.3mm,258.7mm);
\fill[spanb] (12.3mm,256.3mm) rectangle (12.9mm,258.7mm);
\node[anchor=west, font=\lf, inner sep=0] at (13.3mm,257.5mm) {Ichimoku (9 26 52)};
\draw[fill=legfill, draw=axisgray, line width=0.2mm] (35.7mm,255.6mm) rectangle (53.1mm,259.4mm);
\fill[stochblue] (36.4mm,256.3mm) rectangle (38.8mm,258.7mm);
\node[anchor=west, font=\lf, inner sep=0] at (39.3mm,257.5mm) {Clôture (J)};

% stochastic legend
\draw[fill=legfill, draw=axisgray, line width=0.2mm] (0.3mm,90.6mm) rectangle (30.6mm,94.4mm);
\fill[black] (1.0mm,91.3mm) rectangle (2.2mm,93.7mm);
\fill[red] (2.2mm,91.3mm) rectangle (3.4mm,93.7mm);
\node[anchor=west, font=\lf, inner sep=0] at (3.9mm,92.5mm) {Stochastique (14 3 5)};

% right value boxes
\tikzset{vb/.style={draw=axisgray, fill=black!4, line width=0.2mm, font=\tf, inner xsep=0.4mm, inner ysep=0.25mm, anchor=west, minimum height=3.2mm}}
\node[vb, text=spanb] at (458.9mm,174.3mm) {1,19619};
\node[vb, text=kijun!80!black] at (458.9mm,140.4mm) {1,18074};
\node[vb, text=spana] at (458.9mm,137.1mm) {1,17945};
\node[vb, text=tenkan] at (458.9mm,133.8mm) {1,17816};
\node[vb, text=black] at (458.9mm,119.1mm) {1,17109};
\node[vb, fill=gold, text=black] at (458.9mm,121.8mm) {1,17109};
\node[vb, text=stochblue] at (458.9mm,116.7mm) {1,17109};
\node[vb, text=black] at (458.9mm,23.1mm) {27,315};
\node[vb, text=red] at (458.9mm,18.0mm) {20,913};
\pgfresetboundingbox
\path[use as bounding box] (0,0) rectangle (470.4mm,264.6mm);
\end{tikzpicture}
\end{document}
